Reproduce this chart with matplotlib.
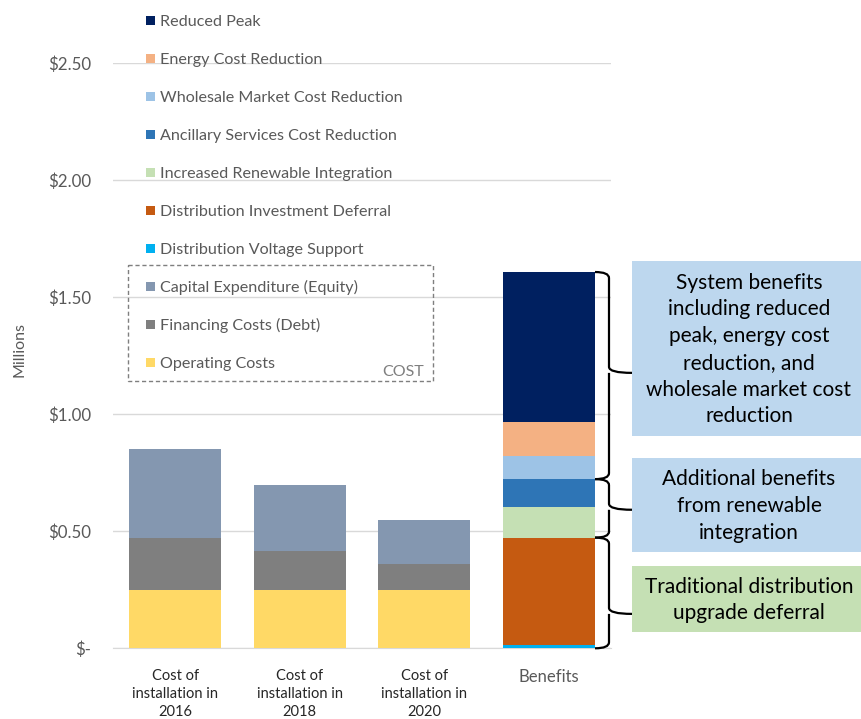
import matplotlib
matplotlib.use('Agg')
import matplotlib.pyplot as plt
from matplotlib.patches import Rectangle, PathPatch
from matplotlib.path import Path
import numpy as np

plt.rcParams['font.family'] = ['Lato', 'DejaVu Sans']

# Categories and stacked series (values in $ millions), bottom to top
categories = ["Cost of\ninstallation in\n2016", "Cost of\ninstallation in\n2018",
              "Cost of\ninstallation in\n2020", "Benefits"]
operating_costs = [0.25, 0.25, 0.25, 0]
financing_costs = [0.22, 0.165, 0.11, 0]
capital_expenditure = [0.38, 0.285, 0.19, 0]
voltage_support = [0, 0, 0, 0.013]
investment_deferral = [0, 0, 0, 0.46]
renewable_integration = [0, 0, 0, 0.13]
ancillary_services = [0, 0, 0, 0.12]
wholesale_market = [0, 0, 0, 0.10]
energy_cost = [0, 0, 0, 0.145]
reduced_peak = [0, 0, 0, 0.64]

series_names = ["Operating Costs", "Financing Costs (Debt)", "Capital Expenditure (Equity)",
                "Distribution Voltage Support", "Distribution Investment Deferral",
                "Increased Renewable Integration", "Ancillary Services Cost Reduction",
                "Wholesale Market Cost Reduction", "Energy Cost Reduction", "Reduced Peak"]
series_values = [operating_costs, financing_costs, capital_expenditure, voltage_support,
                 investment_deferral, renewable_integration, ancillary_services,
                 wholesale_market, energy_cost, reduced_peak]
series_colors = ["#FFD966", "#7F7F7F", "#8497B0", "#00B0F0", "#C55A11",
                 "#C5E0B4", "#2E75B6", "#9DC3E6", "#F4B183", "#002060"]

y_ticks = [0, 0.5, 1.0, 1.5, 2.0, 2.5]
y_tick_labels = ["$-", "$0.50", "$1.00", "$1.50", "$2.00", "$2.50"]

W, H = 861, 719
fig = plt.figure(figsize=(W / 100, H / 100), dpi=100)
ax = fig.add_axes([113 / W, 1 - 648.3 / H, 498 / W, 585 / H])

x = np.arange(len(categories))
bottom = np.zeros(len(categories))
tops = []
for vals, color in zip(series_values, series_colors):
    vals = np.array(vals)
    ax.bar(x, vals, 0.74, bottom=bottom, color=color, linewidth=0, zorder=3)
    bottom = bottom + vals
    tops.append(bottom[3])

ax.set_xlim(-0.5, 3.5)
ax.set_ylim(0, 2.5)
ax.set_yticks(y_ticks)
ax.set_yticklabels(y_tick_labels, fontsize=12.2, color="#595959")
ax.set_xticks(x)
ax.set_xticklabels(categories, fontsize=10.5, color="#262626", linespacing=1.38)
xl = ax.get_xticklabels()
xl[3].set_fontsize(12)
xl[3].set_color("#595959")
ax.tick_params(length=0, axis='both')
ax.tick_params(axis='x', pad=15)
ax.tick_params(axis='y', pad=16)
ax.grid(True, axis='y', color="#D9D9D9", linewidth=1, zorder=0)
for s in ['top', 'right', 'left']:
    ax.spines[s].set_visible(False)
ax.spines['bottom'].set_color("#D9D9D9")
ax.set_ylabel("Millions", fontsize=11.5, color="#595959", labelpad=15, y=0.51)

# overlay in pixel coordinates for legend, boxes and braces
ov = fig.add_axes([0, 0, 1, 1])
ov.set_xlim(0, W)
ov.set_ylim(H, 0)
ov.axis('off')

# legend, top entry first
for i, (name, color) in enumerate(zip(series_names[::-1], series_colors[::-1])):
    base = 26 + 38.0 * i
    ov.add_patch(Rectangle((146, base - 10.5), 9, 9, color=color, linewidth=0))
    ov.text(160, base, name, fontsize=11.6, color="#595959", va='baseline', ha='left')

ov.add_patch(Rectangle((128, 265), 305, 116, fill=False, edgecolor="#7F7F7F",
                       linestyle=(0, (3, 2)), linewidth=1))
ov.text(424, 376, "COST", fontsize=11.5, color="#7F7F7F", ha='right', va='baseline')

# annotation boxes
boxes = [
    (261, 436, "#BDD7EE", "System benefits\nincluding reduced\npeak, energy cost\nreduction, and\nwholesale market cost\nreduction"),
    (458, 552, "#BDD7EE", "Additional benefits\nfrom renewable\nintegration"),
    (566, 632, "#C5E0B4", "Traditional distribution\nupgrade deferral"),
]
for y0, y1, color, txt in boxes:
    ov.add_patch(Rectangle((632, y0), W - 632, y1 - y0, color=color, linewidth=0))
    ov.text(749, (y0 + y1) / 2 + 1, txt, fontsize=15, color="#000000", ha='center',
            va='center', linespacing=1.42)

# curly braces beside the benefits bar
def to_px(v):
    return H - ax.transData.transform((0, v))[1]

def brace(v0, v1, vtip):
    ya, yb, yt = to_px(v1), to_px(v0), to_px(vtip)
    xa, xv, xt, r = 595, 609, 632, 6
    verts = [(xa, ya), (xv, ya), (xv, ya + r),
             (xv, yt - r),
             (xv, yt), (xt, yt),
             (xv, yt), (xv, yt + r),
             (xv, yb - r),
             (xv, yb), (xa, yb)]
    codes = [Path.MOVETO, Path.CURVE3, Path.CURVE3,
             Path.LINETO,
             Path.CURVE3, Path.CURVE3,
             Path.MOVETO, Path.CURVE3,
             Path.LINETO,
             Path.CURVE3, Path.CURVE3]
    ov.add_patch(PathPatch(Path(verts, codes), fill=False, edgecolor='black', linewidth=1.6))

brace(tops[6], tops[9], 1.177)
brace(tops[4], tops[6], 0.592)
brace(0, tops[4], 0.147)

fig.savefig("out.png", dpi=100)
